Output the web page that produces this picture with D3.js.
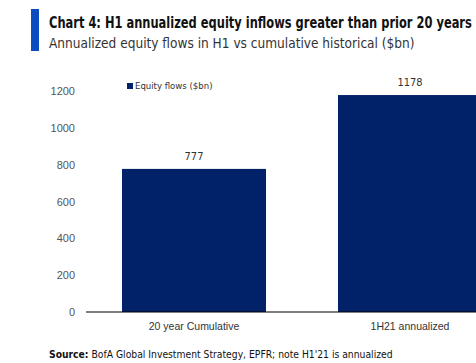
<!DOCTYPE html>
<html>
<head>
<meta charset="utf-8">
<script src="https://cdn.jsdelivr.net/npm/d3@7"></script>
<style>
	body { margin: 0; background: #fff; overflow: hidden; }
	svg { display: block; font-family: "Liberation Sans Narrow", "DejaVu Sans Condensed", sans-serif; }
</style>
</head>
<body>
<div id="chartDiv"></div>
<script>
// chart data
var categories = ["20 year Cumulative", "1H21 annualized"];
var equityFlows = [777, 1178];
var yTicks = [0, 200, 400, 600, 800, 1000, 1200];

var W = 476, H = 363;
var margin = {top: 91, left: 86, bottom: 51};

var svg = d3.select("#chartDiv").append("svg")
	.attr("width", W)
	.attr("height", H);

// blue accent + heading
svg.append("rect")
	.attr("x", 31).attr("y", 9)
	.attr("width", 8).attr("height", 42)
	.attr("fill", "#0a4cc0");

// squeeze a text horizontally so it spans the given width
function squeeze(sel, x0, y0, w) {
	var nat = sel.node().getComputedTextLength();
	sel.attr("transform", "translate(" + x0 + "," + y0 + ") scale(" + (w / nat) + ",1)");
}

var title = svg.append("text")
	.attr("font-size", 15)
	.attr("font-weight", "bold")
	.attr("fill", "#111")
	.text("Chart 4: H1 annualized equity inflows greater than prior 20 years");
squeeze(title, 49, 28, 423);

var sub = svg.append("text")
	.attr("font-size", 14.5)
	.attr("fill", "#333")
	.text("Annualized equity flows in H1 vs cumulative historical ($bn)");
squeeze(sub, 49, 48, 366);

//scales
var x = d3.scaleBand()
	.domain(categories)
	.range([margin.left, margin.left + 432])
	.paddingInner(1 / 3)
	.paddingOuter(1 / 6);

var y = d3.scaleLinear()
	.domain([0, 1200])
	.range([H - margin.bottom, margin.top]);

// y axis labels only, no line
var yAxis = svg.append("g")
	.attr("transform", "translate(" + margin.left + ",0)")
	.call(d3.axisLeft(y).tickValues(yTicks).tickFormat(d3.format("d")).tickSize(0).tickPadding(11));
yAxis.select(".domain").remove();
yAxis.selectAll("text")
	.attr("font-family", "inherit")
	.attr("font-size", 11)
	.attr("fill", "#555");

// bars
svg.selectAll(".bar")
	.data(equityFlows)
	.enter().append("rect")
	.attr("class", "bar")
	.attr("x", function(d, i) { return x(categories[i]); })
	.attr("y", function(d) { return y(d); })
	.attr("width", x.bandwidth())
	.attr("height", function(d) { return y(0) - y(d); })
	.attr("fill", "#012169");

// value labels
svg.selectAll(".val")
	.data(equityFlows)
	.enter().append("text")
	.attr("class", "val")
	.attr("x", function(d, i) { return x(categories[i]) + x.bandwidth() / 2; })
	.attr("y", function(d) { return y(d) - 9; })
	.attr("text-anchor", "middle")
	.attr("font-size", 11)
	.attr("fill", "#333")
	.text(function(d) { return d; });

// x axis
var xAxis = svg.append("g")
	.attr("transform", "translate(0," + y(0) + ")")
	.call(d3.axisBottom(x).tickSize(0).tickPadding(11));
xAxis.select(".domain")
	.attr("stroke", "#000")
	.attr("stroke-width", 1.2)
	.attr("d", "M" + margin.left + ",0H" + (margin.left + 432));
xAxis.selectAll("text")
	.attr("font-family", "inherit")
	.attr("font-size", 10.5)
	.attr("fill", "#333");

// legend
svg.append("rect")
	.attr("x", 127).attr("y", 83)
	.attr("width", 6).attr("height", 6)
	.attr("fill", "#012169");
svg.append("text")
	.attr("x", 135).attr("y", 89)
	.attr("font-size", 9.5)
	.attr("fill", "#333")
	.text("Equity flows ($bn)");

// source line
var src = svg.append("text")
	.attr("font-size", 10.5)
	.attr("fill", "#111");
src.append("tspan").attr("font-weight", "bold").text("Source:");
src.append("tspan").text("  BofA Global Investment Strategy, EPFR; note H1'21  is annualized");
squeeze(src, 49, 358, 344);
</script>
</body>
</html>
